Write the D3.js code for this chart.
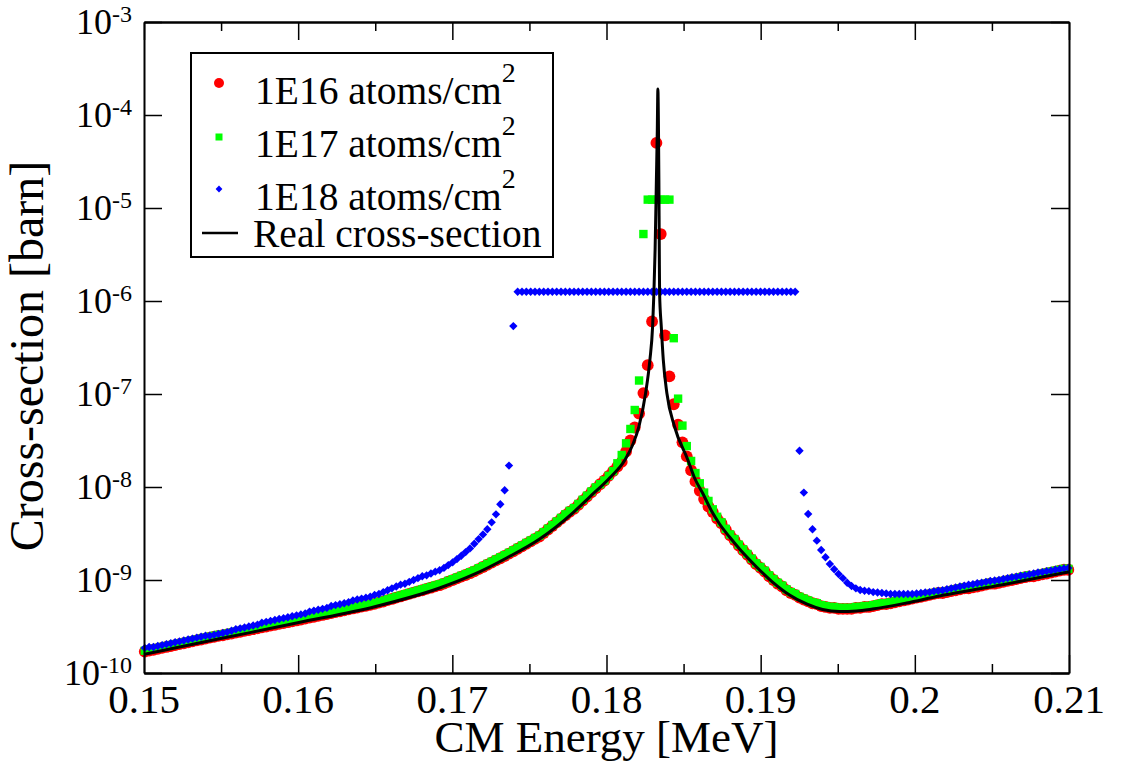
<!DOCTYPE html>
<html>
<head>
<meta charset="utf-8">
<script src="https://cdn.jsdelivr.net/npm/d3@7"></script>
<style>
  body { margin: 0; background: #fff; }
  svg text { font-family: "Liberation Serif", "Times New Roman", Times, serif; }
</style>
</head>
<body>
<script>

// scan grid of the simulated yields (CM energy, MeV)
var gridStart = 0.15005, gridStep = 0.00028125;

// log10(cross-section / barn), one value per grid energy
var red16 = [
  -9.77, -9.76, -9.75, -9.74, -9.73, -9.72, -9.71, -9.70, -9.69, -9.68,
  -9.67, -9.66, -9.65, -9.64, -9.63, -9.62, -9.61, -9.60, -9.594, -9.585,
  -9.576, -9.566, -9.557, -9.547, -9.538, -9.529, -9.519, -9.510, -9.501, -9.491,
  -9.482, -9.472, -9.463, -9.454, -9.444, -9.435, -9.425, -9.415, -9.405, -9.395,
  -9.386, -9.376, -9.366, -9.356, -9.346, -9.336, -9.326, -9.316, -9.306, -9.297,
  -9.287, -9.277, -9.267, -9.257, -9.244, -9.231, -9.217, -9.204, -9.190, -9.177,
  -9.163, -9.150, -9.136, -9.123, -9.110, -9.096, -9.083, -9.069, -9.056, -9.038,
  -9.019, -9.001, -8.983, -8.964, -8.946, -8.927, -8.907, -8.883, -8.860, -8.836,
  -8.813, -8.789, -8.766, -8.742, -8.717, -8.691, -8.664, -8.638, -8.611, -8.585,
  -8.558, -8.532, -8.495, -8.457, -8.419, -8.380, -8.342, -8.304, -8.266, -8.236,
  -8.192, -8.147, -8.103, -8.058, -8.014, -7.97, -7.93, -7.88, -7.83, -7.78,
  -7.73, -7.62, -7.50, -7.36, -7.21, -6.99, -6.69, -6.22, -4.30, -5.28,
  -6.37, -6.81, -7.11, -7.33, -7.52, -7.67, -7.82, -7.94, -8.04, -8.13,
  -8.21, -8.27, -8.34, -8.39, -8.46, -8.52, -8.57, -8.63, -8.68, -8.73,
  -8.78, -8.83, -8.87, -8.91, -8.96, -9.00, -9.04, -9.07, -9.11, -9.14,
  -9.16, -9.19, -9.21, -9.23, -9.25, -9.26, -9.28, -9.29, -9.30, -9.30,
  -9.31, -9.31, -9.31, -9.31, -9.30, -9.30, -9.29, -9.29, -9.28, -9.27,
  -9.26, -9.26, -9.25, -9.24, -9.23, -9.22, -9.21, -9.20, -9.19, -9.18,
  -9.17, -9.16, -9.15, -9.14, -9.14, -9.13, -9.12, -9.11, -9.10, -9.09,
  -9.09, -9.08, -9.07, -9.06, -9.05, -9.04, -9.04, -9.03, -9.02, -9.01,
  -9.00, -8.99, -8.98, -8.97, -8.96, -8.96, -8.95, -8.94, -8.93, -8.92,
  -8.91, -8.90, -8.89, -8.89
];

var green17 = [
  -9.76, -9.75, -9.74, -9.73, -9.72, -9.71, -9.70, -9.69, -9.68, -9.67,
  -9.66, -9.65, -9.64, -9.63, -9.62, -9.61, -9.60, -9.59, -9.584, -9.575,
  -9.566, -9.556, -9.547, -9.537, -9.528, -9.519, -9.509, -9.500, -9.491, -9.481,
  -9.472, -9.462, -9.453, -9.444, -9.434, -9.425, -9.415, -9.405, -9.395, -9.385,
  -9.376, -9.366, -9.356, -9.346, -9.336, -9.326, -9.316, -9.306, -9.296, -9.287,
  -9.277, -9.267, -9.257, -9.247, -9.234, -9.221, -9.207, -9.194, -9.180, -9.167,
  -9.153, -9.140, -9.126, -9.113, -9.100, -9.086, -9.073, -9.059, -9.046, -9.028,
  -9.009, -8.991, -8.973, -8.954, -8.936, -8.917, -8.897, -8.873, -8.850, -8.826,
  -8.803, -8.779, -8.756, -8.732, -8.707, -8.681, -8.654, -8.628, -8.601, -8.575,
  -8.548, -8.522, -8.485, -8.447, -8.409, -8.370, -8.332, -8.294, -8.256, -8.226,
  -8.182, -8.137, -8.093, -8.048, -8.004, -7.97, -7.93, -7.88, -7.83, -7.745,
  -7.656, -7.53, -7.376, -7.172, -6.855, -5.28, -4.91, -4.91, -4.91, -4.91,
  -4.91, -4.91, -6.40, -7.05, -7.34, -7.56, -7.72, -7.85, -7.96, -8.06,
  -8.15, -8.24, -8.32, -8.38, -8.45, -8.51, -8.56, -8.62, -8.67, -8.72,
  -8.77, -8.82, -8.86, -8.90, -8.95, -8.99, -9.03, -9.06, -9.10, -9.13,
  -9.15, -9.18, -9.20, -9.22, -9.24, -9.25, -9.27, -9.28, -9.29, -9.29,
  -9.30, -9.30, -9.30, -9.30, -9.29, -9.29, -9.28, -9.28, -9.27, -9.26,
  -9.25, -9.25, -9.24, -9.23, -9.22, -9.21, -9.20, -9.19, -9.18, -9.17,
  -9.16, -9.15, -9.14, -9.13, -9.13, -9.12, -9.11, -9.10, -9.09, -9.08,
  -9.08, -9.07, -9.06, -9.05, -9.04, -9.03, -9.03, -9.02, -9.01, -9.00,
  -8.99, -8.98, -8.97, -8.96, -8.95, -8.95, -8.94, -8.93, -8.92, -8.91,
  -8.90, -8.89, -8.88, -8.88
];

var blue18 = [
  -9.73, -9.72, -9.72, -9.71, -9.70, -9.69, -9.68, -9.67, -9.66, -9.65,
  -9.64, -9.63, -9.62, -9.61, -9.60, -9.60, -9.59, -9.58, -9.57, -9.56,
  -9.545, -9.53, -9.52, -9.51, -9.50, -9.49, -9.48, -9.46, -9.45, -9.44,
  -9.43, -9.42, -9.41, -9.40, -9.39, -9.38, -9.37, -9.36, -9.34, -9.33,
  -9.32, -9.31, -9.30, -9.28, -9.27, -9.26, -9.25, -9.24, -9.22, -9.21,
  -9.20, -9.19, -9.18, -9.16, -9.15, -9.13, -9.11, -9.09, -9.07, -9.05,
  -9.04, -9.02, -9.00, -8.98, -8.96, -8.95, -8.93, -8.91, -8.895, -8.87,
  -8.84, -8.81, -8.775, -8.74, -8.70, -8.66, -8.61, -8.56, -8.51, -8.455,
  -8.38, -8.294, -8.186, -8.035, -7.77, -6.27,
  -5.90, -5.90, -5.90, -5.90, -5.90, -5.90, -5.90, -5.90, -5.90, -5.90,
  -5.90, -5.90, -5.90, -5.90, -5.90, -5.90, -5.90, -5.90, -5.90, -5.90,
  -5.90, -5.90, -5.90, -5.90, -5.90, -5.90, -5.90, -5.90, -5.90, -5.90,
  -5.90, -5.90, -5.90, -5.90, -5.90, -5.90, -5.90, -5.90, -5.90, -5.90,
  -5.90, -5.90, -5.90, -5.90, -5.90, -5.90, -5.90, -5.90, -5.90, -5.90,
  -5.90, -5.90, -5.90, -5.90, -5.90, -5.90, -5.90, -5.90, -5.90, -5.90,
  -5.90, -5.90, -5.90, -5.90, -5.90,
  -7.61, -8.06, -8.29, -8.455, -8.577, -8.677, -8.756, -8.828, -8.885, -8.935,
  -8.98, -9.03, -9.065, -9.09, -9.108, -9.115, -9.12, -9.13, -9.135, -9.14,
  -9.145, -9.15, -9.15, -9.15, -9.15, -9.15, -9.15, -9.145, -9.14, -9.135,
  -9.13, -9.12, -9.115, -9.11, -9.10, -9.09, -9.08, -9.07, -9.06, -9.05,
  -9.045, -9.035, -9.03, -9.02, -9.01, -9.005, -9.00, -8.99, -8.98, -8.97,
  -8.965, -8.955, -8.95, -8.94, -8.93, -8.92, -8.915, -8.905, -8.90, -8.89,
  -8.885, -8.875, -8.87
];

// real cross-section (black line)
var realEnergy = [
  0.15, 0.154974, 0.159968, 0.165026, 0.169176, 0.171316, 0.173521, 0.175661, 0.177802, 0.178904,
  0.180201, 0.181193, 0.181693, 0.182101, 0.182536, 0.182815, 0.18299, 0.183074, 0.183152, 0.183236,
  0.183295, 0.183333, 0.183372, 0.183398, 0.183424, 0.183444, 0.183554, 0.183684, 0.183917, 0.184416,
  0.185279, 0.185713, 0.186232, 0.186816, 0.187335, 0.187983, 0.188632, 0.189734, 0.190772, 0.191874,
  0.192977, 0.194014, 0.195117, 0.196219, 0.197257, 0.199462, 0.201602, 0.203742, 0.205947, 0.208087,
  0.21
];
var realLog = [
  -9.80, -9.63, -9.46, -9.285, -9.086, -8.946, -8.763, -8.559, -8.28, -8.108,
  -7.903, -7.71, -7.548, -7.352, -6.992, -6.634, -6.276, -5.917, -5.452, -4.699,
  -4.161, -3.72, -4.161, -4.699, -5.452, -5.917, -6.276, -6.634, -6.992, -7.352,
  -7.71, -7.903, -8.065, -8.258, -8.398, -8.538, -8.667, -8.86, -9.022, -9.161,
  -9.258, -9.317, -9.339, -9.333, -9.312, -9.247, -9.172, -9.108, -9.043, -8.973,
  -8.914
];

var xTicks = [0.15, 0.16, 0.17, 0.18, 0.19, 0.2, 0.21];
var xTickLabels = ["0.15", "0.16", "0.17", "0.18", "0.19", "0.2", "0.21"];
var xMinorTicks = [0.155, 0.165, 0.175, 0.185, 0.195, 0.205];
var yExponents = [-10, -9, -8, -7, -6, -5, -4, -3];

var legendLabels = ["1E16 atoms/cm", "1E17 atoms/cm", "1E18 atoms/cm", "Real cross-section"];


var margin = {top: 22, right: 53, bottom: 91, left: 144},
    width = 1122 - margin.left - margin.right,
    height = 764 - margin.top - margin.bottom;

var svgRoot = d3.select("body").append("svg")
    .attr("width", 1122)
    .attr("height", 764);

var svg = svgRoot.append("g")
    .attr("transform", "translate(" + margin.left + "," + margin.top + ")");

var x = d3.scaleLinear().domain([0.15, 0.21]).range([0, width]);
var y = d3.scaleLog().domain([1e-10, 1e-3]).range([height, 0]);

function toPoints(logs) {
  return logs.map(function(v, i) {
    return {e: gridStart + i * gridStep, s: Math.pow(10, v)};
  });
}

var redPts = toPoints(red16),
    greenPts = toPoints(green17),
    bluePts = toPoints(blue18);

var realPts = realEnergy.map(function(e, i) { return {e: e, s: Math.pow(10, realLog[i])}; });

// red circles
svg.append("g").selectAll("circle")
    .data(redPts)
  .enter().append("circle")
    .attr("cx", function(d) { return x(d.e); })
    .attr("cy", function(d) { return y(d.s); })
    .attr("r", 5.9)
    .attr("fill", "#ff0000");

// green squares
svg.append("g").selectAll("rect")
    .data(greenPts)
  .enter().append("rect")
    .attr("x", function(d) { return x(d.e) - 4.2; })
    .attr("y", function(d) { return y(d.s) - 4.2; })
    .attr("width", 8.4)
    .attr("height", 8.4)
    .attr("fill", "#00ff00");

// blue diamonds
var diamond = "M0,-4.2L4.2,0L0,4.2L-4.2,0Z";
svg.append("g").selectAll("path")
    .data(bluePts)
  .enter().append("path")
    .attr("d", diamond)
    .attr("transform", function(d) { return "translate(" + x(d.e) + "," + y(d.s) + ")"; })
    .attr("fill", "#0000ff");

// real cross-section
var line = d3.line()
    .x(function(d) { return x(d.e); })
    .y(function(d) { return y(d.s); })
    .curve(d3.curveMonotoneX);

svg.append("path")
    .datum(realPts)
    .attr("d", line)
    .attr("fill", "none")
    .attr("stroke", "#000")
    .attr("stroke-width", 3)
    .attr("stroke-linejoin", "round");

// frame + inward ticks
function styleAxis(g) {
  g.select(".domain").attr("stroke", "#000").attr("stroke-width", 2);
  g.selectAll(".tick line").attr("stroke", "#000").attr("stroke-width", 1.5);
}

var yTickVals = yExponents.map(function(p) { return Math.pow(10, p); });

svg.append("g").attr("transform", "translate(0," + height + ")")
    .call(d3.axisBottom(x).tickValues(xTicks).tickSize(-18).tickSizeOuter(0).tickFormat(""))
    .call(styleAxis);
svg.append("g").attr("transform", "translate(0," + height + ")")
    .call(d3.axisBottom(x).tickValues(xMinorTicks).tickSize(-9).tickSizeOuter(0).tickFormat(""))
    .call(styleAxis);
svg.append("g")
    .call(d3.axisTop(x).tickValues(xTicks).tickSize(-18).tickSizeOuter(0).tickFormat(""))
    .call(styleAxis);
svg.append("g")
    .call(d3.axisTop(x).tickValues(xMinorTicks).tickSize(-9).tickSizeOuter(0).tickFormat(""))
    .call(styleAxis);
svg.append("g")
    .call(d3.axisLeft(y).tickValues(yTickVals).tickSize(-18).tickSizeOuter(0).tickFormat(""))
    .call(styleAxis);
svg.append("g").attr("transform", "translate(" + width + ",0)")
    .call(d3.axisRight(y).tickValues(yTickVals).tickSize(-18).tickSizeOuter(0).tickFormat(""))
    .call(styleAxis);

// tick labels
svg.append("g").selectAll("text")
    .data(xTicks)
  .enter().append("text")
    .attr("x", function(d) { return x(d); })
    .attr("y", height + 40)
    .attr("text-anchor", "middle")
    .attr("font-size", 41)
    .text(function(d, i) { return xTickLabels[i]; });

var yLab = svg.append("g").selectAll("text")
    .data(yExponents)
  .enter().append("text")
    .attr("x", -12)
    .attr("y", function(d) { return y(Math.pow(10, d)) + 12; })
    .attr("text-anchor", "end")
    .attr("font-size", 36);
yLab.append("tspan").text("10");
yLab.append("tspan").attr("font-size", 24).attr("dy", -12).text(function(d) { return String(d); });

// axis titles
svg.append("text")
    .attr("x", width / 2)
    .attr("y", height + 79)
    .attr("text-anchor", "middle")
    .attr("font-size", 45)
    .text("CM Energy [MeV]");

svg.append("text")
    .attr("transform", "rotate(-90)")
    .attr("x", -334)
    .attr("y", -101)
    .attr("text-anchor", "middle")
    .attr("font-size", 48)
    .text("Cross-section [barn]");

// legend
var leg = svgRoot.append("g");
leg.append("rect")
    .attr("x", 191).attr("y", 53)
    .attr("width", 362).attr("height", 204)
    .attr("fill", "#fff")
    .attr("stroke", "#000")
    .attr("stroke-width", 2);

var rowBase = [104, 157, 210, 247];
var rowMark = [83, 137, 189, 233];

leg.append("circle").attr("cx", 219).attr("cy", rowMark[0]).attr("r", 5).attr("fill", "#ff0000");
leg.append("rect").attr("x", 215.5).attr("y", rowMark[1] - 3.5).attr("width", 7).attr("height", 7).attr("fill", "#00ff00");
leg.append("path").attr("d", "M0,-3.4L3.4,0L0,3.4L-3.4,0Z")
    .attr("transform", "translate(219," + rowMark[2] + ")").attr("fill", "#0000ff");
leg.append("line").attr("x1", 202).attr("x2", 238).attr("y1", rowMark[3]).attr("y2", rowMark[3])
    .attr("stroke", "#000").attr("stroke-width", 2.5);

legendLabels.forEach(function(lab, i) {
  var t = leg.append("text")
      .attr("x", i < 3 ? 255 : 253)
      .attr("y", rowBase[i])
      .attr("font-size", 39.5);
  t.append("tspan").text(lab);
  if (i < 3) t.append("tspan").attr("font-size", 28).attr("dy", -22).text("2");
});

</script>
</body>
</html>
